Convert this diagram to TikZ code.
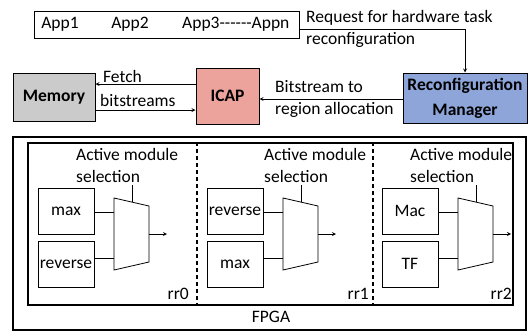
\documentclass[tikz,border=0pt]{standalone}
\usepackage{fontspec}
\setmainfont{Carlito}
\usepackage{xcolor}
\usepackage{tikz}
\definecolor{memgray}{HTML}{CBCBCB}
\definecolor{icapred}{HTML}{EBA39B}
\definecolor{mgrblue}{HTML}{8EA5D9}

\begin{document}
\begin{tikzpicture}[x=1pt,y=-1pt,font=\fontsize{17.5}{22}\selectfont,
  blk/.style={draw,line width=1pt,align=center,inner sep=0pt,
    font=\fontsize{17.5}{25}\selectfont\bfseries},
  modbox/.style={draw,line width=0.8pt,minimum width=56pt,minimum height=46pt,inner sep=0pt},
  lbl/.style={anchor=west,align=left,inner sep=0pt}]
\useasboundingbox (0,0) rectangle (529,332);
% applications
\node [draw,line width=1pt,minimum width=265pt,minimum height=27pt] at (166.5,24.5) (apps) {};
\node at (60,24) (app1) {App1};
\node at (130,24) (app2) {App2};
\node [anchor=west,inner sep=0pt] at (182,24) (appn) {App3{-}{-}{-}{-}{-}{-}Appn};
\node [lbl] at (306,28.5) (req) {Request for hardware task\\reconfiguration};
% top blocks
\node [blk,fill=memgray,minimum width=82pt,minimum height=48pt] at (54,97) (mem) {Memory};
\node [blk,fill=icapred,minimum width=63pt,minimum height=56pt] at (227.5,96) (icap) {ICAP};
\node [blk,fill=mgrblue,minimum width=124pt,minimum height=50pt] at (465,98) (mgr) {Reconfiguration\\Manager};
\draw [-stealth,line width=0.8pt] ([yshift=-4.5pt]apps.east) -| (mgr.north);
\draw [-stealth,line width=0.8pt] ([yshift=12pt]icap.west) -- (mem.east |- 0,84);
\draw [-stealth,line width=0.8pt] (mem.east |- 0,110) -- (icap.west |- 0,110);
\draw [-stealth,line width=0.8pt] (mgr.west |- 0,99) -- (icap.east |- 0,99);
\node [lbl] at (103,76) (fetch) {Fetch};
\node [lbl] at (100,100) (bits) {bitstreams};
\node [lbl] at (275,99) (alloc) {Bitstream to\\region allocation};
% fpga with its regions
\node [draw,line width=1.3pt,minimum width=513pt,minimum height=193pt] at (269.5,233.5) (fpga) {};
\node [draw,line width=1.3pt,minimum width=485pt,minimum height=162pt] at (270.5,224) (rr) {};
\node at (271,317) (fpgalbl) {FPGA};
\draw [line width=1.2pt,dash pattern=on 4pt off 3pt] (rr.north -| 197,0) -- (rr.south -| 197,0);
\draw [line width=1.2pt,dash pattern=on 4pt off 3pt] (rr.north -| 373,0) -- (rr.south -| 373,0);
\foreach \i/\x/\a/\b/\t/\r in {0/38/max/reverse/76/189, 1/207/reverse/max/264/369, 2/382/Mac/TF/410/512} {
  \node [modbox] at (\x+28,211) (top\i) {\a};
  \node [modbox] at (\x+28,264) (bot\i) {\b};
  \draw [line width=0.8pt] (\x+76,198) -- (\x+111,206) -- (\x+111,262) -- (\x+76,270) -- cycle;
  \coordinate (ina\i) at (\x+76,212);
  \coordinate (inb\i) at (\x+76,258);
  \coordinate (sel\i) at (\x+94,202);
  \coordinate (out\i) at (\x+111,234);
  \draw [line width=0.8pt] (top\i.east |- ina\i) -- (ina\i);
  \draw [line width=0.8pt] (bot\i.east |- inb\i) -- (inb\i);
  \draw [line width=0.8pt] (sel\i) -- ++(0,-17);
  \draw [-stealth,line width=0.8pt] (out\i) -- ++(18,0);
  \node [lbl] at (\t,165) (ams\i) {Active module\\selection};
  \node [anchor=east,inner sep=0pt] at (\r,294) (rr\i) {rr\i};
}
\end{tikzpicture}
\end{document}
